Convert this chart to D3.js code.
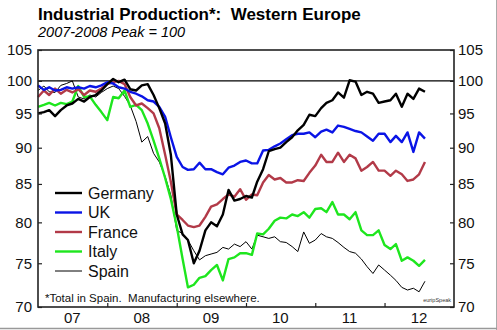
<!DOCTYPE html>
<html><head><meta charset="utf-8">
<script src="https://cdn.jsdelivr.net/npm/d3@7"></script>
<style>
body{margin:0;background:#fff;}
text{font-family:"Liberation Sans",Arial,sans-serif;white-space:pre;}
</style></head>
<body><svg id="c" width="497" height="330"></svg>
<script>
const startYear = 2007;
const yearLabels = ["07","08","09","10","11","12"];
const yTicks = [70,75,80,85,90,95,100,105];
const seriesNames = ["Germany","UK","France","Italy","Spain"];
const seriesColors = ["#000000","#0a14e6","#b23a48","#1ee61e","#000000"];
const seriesWidths = [2.4,2.4,2.4,2.4,1];
const germany = [95,95.2,95.5,94.6,95.5,96.2,96.5,97.2,96.8,97.5,97.8,98.5,99.5,100.3,99.8,100.2,98.7,98.5,99.3,99.5,97.8,95.8,93.5,89,
  81,78.5,77.8,75,76.5,79,80,79.5,81,84.2,82.8,83,83.4,83.2,85.3,87,89.5,89.8,90,90.8,91.5,92.5,93.3,94.8,
  94.6,95.8,96.6,97,98.2,97.4,100.1,99.9,97.8,98.3,98,96.6,96.8,97,98,96,98,97.2,98.8,98.3];
const uk = [99.3,98.6,99,98.5,98.6,99,98.8,99,98.8,99.2,99,99.3,99.8,99.6,99,98.8,98.3,98,97.6,97,96.8,96,94.5,91.5,
  88.7,87.3,86.9,87,87.9,87,87,86.6,86.3,87.2,87.5,88,88.2,87.8,87.8,89.6,89.7,90.2,90.6,91.2,91.8,92,92,92.2,
  91.5,92.3,92.6,92.2,93.2,93,92.7,92.4,92.2,91.6,91,92,92,90.8,91.7,90.8,92.2,89.4,92.2,91.3];
const france = [97.5,98.5,97.8,98.8,98,98.6,98.2,98.7,97.8,98.5,98.3,98.8,99.5,99.8,100,99.5,97.5,96.2,96.5,95.8,95,92.8,89,85.3,
  81,80.3,79.6,79.4,79.6,80.7,82,82.3,83,83.6,83.3,84.3,82.9,83.6,83.5,85.2,86.2,85.6,85.8,85.2,85.2,85.5,85.4,86.5,
  87.5,89,88,88,89.3,88,89,88.5,86.8,87.3,88,86.8,86.8,86.1,86.8,86.3,85.4,85.6,86.3,88];
const italy = [96,96.3,96.6,96.2,96.6,96.4,96.8,99.2,97.5,97.6,96.3,95.2,94,97.5,97.3,98.5,96,96.3,95.5,93.5,91,88.5,85.8,83,
  79.5,75.5,72.2,72.5,73.3,73.5,74.2,74.8,73,75.5,75.7,76.2,76.2,76,78.6,78.5,79.2,80.2,80.6,80.5,81,80.8,81.3,80.6,
  81.7,81.8,81.3,82.6,81,81,80.4,81.3,79,78.4,78.4,79,77.2,76.7,77.3,75.3,75.7,75.3,74.7,75.4];
const spain = [98.5,99.2,98.3,98.2,99.3,99.6,100,97.5,97.2,97.8,97.5,98.2,98.8,99.2,98.8,97.6,96.2,93.8,90.8,91.6,89.2,88,86,83.5,
  79,78.6,77.8,76.5,75.4,75.9,76.1,76.3,76.9,76.7,77.3,77,77.6,76.7,78.4,78.2,78,78.2,77.6,77.5,77,76.4,78.8,77.4,
  77.8,78.6,78.2,78,77.5,76.9,76.4,76.2,75.5,74.6,73.8,74.8,74.2,73.6,73,72.2,71.9,72.1,71.7,72.9];
const allSeries = [germany, uk, france, italy, spain];

const svg = d3.select("#c");
const L = 38, R = 454, T = 50, B = 307;
const x = d3.scaleTime().domain([new Date(2007,0,1), new Date(2013,0,1)]).range([L, R]);
const y = d3.scaleLog().domain([70,105]).range([B, T]);
const dateOf = i => d3.timeMonth.offset(new Date(startYear,0,1), i);

// outer border (right/bottom)
svg.append("line").attr("x1",496.5).attr("x2",496.5).attr("y1",0).attr("y2",330).attr("stroke","#aaa");
svg.append("line").attr("x1",0).attr("x2",497).attr("y1",328.5).attr("y2",328.5).attr("stroke","#999").attr("stroke-width",1.5);

// title
svg.append("text").attr("x",38).attr("y",20).attr("font-size",17).attr("font-weight","bold").text("Industrial Production*:  Western Europe");
svg.append("text").attr("x",38).attr("y",37).attr("font-size",14.5).attr("font-style","italic").text("2007-2008 Peak = 100");

// 100 line
svg.append("line").attr("x1",L).attr("x2",R).attr("y1",y(100)).attr("y2",y(100)).attr("stroke","#000").attr("stroke-width",1.2);

// lines
const line = d3.line().x((d,i)=>x(dateOf(i))).y(d=>y(d));
const order = [4,3,2,1,0];
order.forEach(k=>{
  svg.append("path").datum(allSeries[k]).attr("d",line).attr("fill","none")
    .attr("stroke",seriesColors[k]).attr("stroke-width",seriesWidths[k]).attr("stroke-linejoin","round");
});

// frame
svg.append("rect").attr("x",L).attr("y",T).attr("width",R-L).attr("height",B-T).attr("fill","none").attr("stroke","#222").attr("stroke-width",1.6);

// y axes
const leftAxis = d3.axisLeft(y).tickValues(yTicks).tickSize(-4).tickPadding(8).tickFormat(d3.format("d"));
const gl = svg.append("g").attr("transform",`translate(${L},0)`).call(leftAxis);
const rightAxis = d3.axisRight(y).tickValues(yTicks).tickSize(-4).tickPadding(8).tickFormat(d3.format("d"));
const gr = svg.append("g").attr("transform",`translate(${R},0)`).call(rightAxis);
[gl,gr].forEach(g=>{
  g.select(".domain").remove();
  g.selectAll(".tick line").attr("stroke","#222").attr("stroke-width",1.2);
  g.selectAll(".tick text").attr("font-size",15).attr("fill","#111").attr("font-family","Liberation Sans, Arial, sans-serif");
});
gl.selectAll(".tick text").attr("x",-6);
gr.selectAll(".tick text").attr("x",4);

// x axis
const yearBounds = d3.range(2008,2013).map(yr=>new Date(yr,0,1));
const xAxis = d3.axisBottom(x).tickValues(yearBounds).tickSize(-4).tickFormat("");
const gx = svg.append("g").attr("transform",`translate(0,${B})`).call(xAxis);
gx.select(".domain").remove();
gx.selectAll(".tick line").attr("stroke","#222").attr("stroke-width",1.2);
svg.selectAll(".xl").data(yearLabels).enter().append("text").attr("class","xl")
  .attr("x",(d,i)=>x(new Date(startYear+i,6,1))).attr("y",323).attr("text-anchor","middle")
  .attr("font-size",15).attr("fill","#111").text(d=>d);

// legend
const lg = svg.append("g");
seriesNames.forEach((n,k)=>{
  const ly = 193 + k*19.5;
  lg.append("line").attr("x1",55).attr("x2",82).attr("y1",ly).attr("y2",ly)
    .attr("stroke",seriesColors[k]).attr("stroke-width",seriesWidths[k]);
  lg.append("text").attr("x",88).attr("y",ly+5.5).attr("font-size",16).attr("fill","#111").text(n);
});

// footnote
svg.append("text").attr("x",45).attr("y",302).attr("font-size",11.5).attr("fill","#111").text("*Total in Spain.  Manufacturing elsewhere.");
svg.append("text").attr("x",451).attr("y",302).attr("text-anchor","end").attr("font-size",5.5).attr("fill","#333").text("euripSpeak");
</script></body></html>
